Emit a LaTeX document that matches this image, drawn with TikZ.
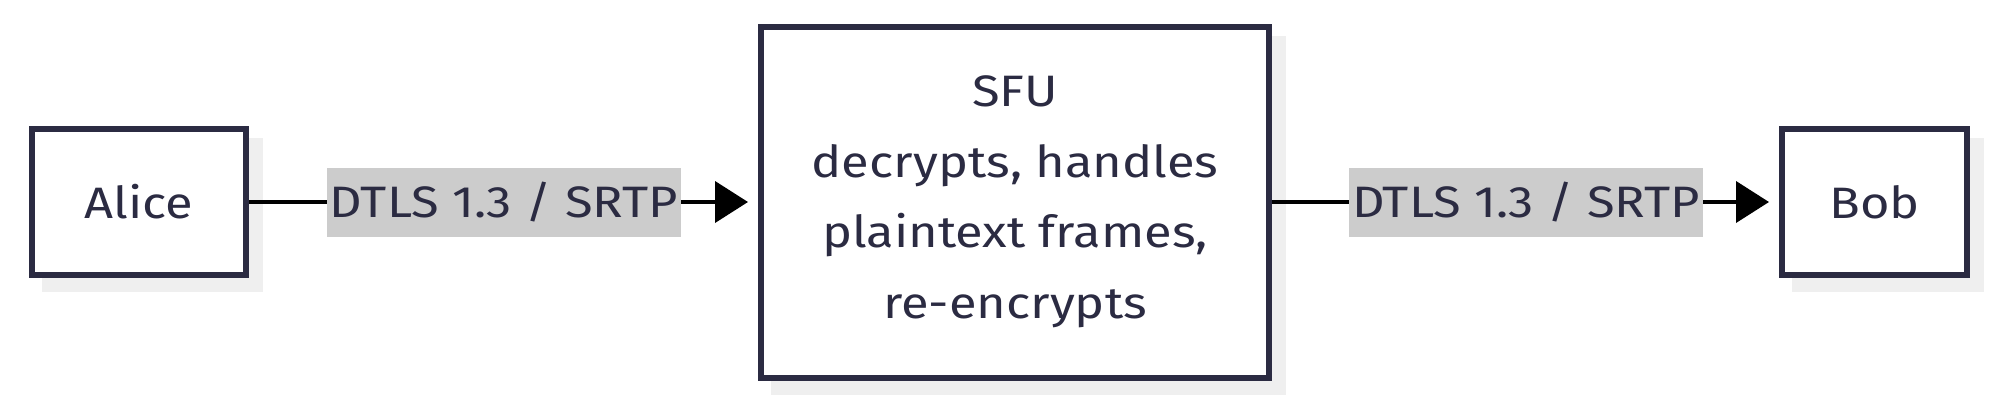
\documentclass[tikz,border=0pt]{standalone}
\usepackage{fontspec}
\setmainfont{Fira Sans}[FakeStretch=1.15]
\usetikzlibrary{arrows.meta,calc,backgrounds}
\definecolor{ink}{HTML}{2B2B42}
\definecolor{shadowc}{HTML}{EFEFEF}
\definecolor{labelbg}{HTML}{CCCCCC}
\tikzset{
  box/.style={draw=ink, line width=6pt, fill=white, text=ink, inner sep=0pt,
    font=\fontsize{44}{70.5}\selectfont, align=center},
  lab/.style={fill=labelbg, text=ink, inner sep=0pt, minimum height=69pt,
    font=\fontsize{44}{50}\selectfont},
  conn/.style={line width=4pt, draw=black},
  arr/.style={conn, -{Triangle[length=33pt,width=41pt]}, shorten >=10pt},
}
\begin{document}
\begin{tikzpicture}[x=1pt,y=-1pt]
\useasboundingbox (0,0) rectangle (1999,405);
\node[box, minimum width=214pt, minimum height=146pt] (alice) at (139,202) {Alice};
\node[box, minimum width=508pt, minimum height=351pt] (sfu) at (1015,202) {SFU\\decrypts, handles\\plaintext frames,\\re-encrypts};
\node[box, minimum width=185pt, minimum height=146pt] (bob) at (1874.5,202) {Bob};
\node[lab, minimum width=354pt] (l1) at (504,202) {DTLS 1.3 / SRTP};
\node[lab, minimum width=354pt] (l2) at (1526,202) {DTLS 1.3 / SRTP};
\begin{scope}[on background layer]
\foreach \n in {alice,sfu,bob}{
  \fill[shadowc] ($(\n.north west)+(13,12)$) rectangle ($(\n.south east)+(14,14)$);
}
\end{scope}
\draw[conn] (alice.east) -- (l1.west);
\draw[arr] (l1.east) -- (sfu.west);
\draw[conn] (sfu.east) -- (l2.west);
\draw[arr] (l2.east) -- (bob.west);
\end{tikzpicture}
\end{document}
